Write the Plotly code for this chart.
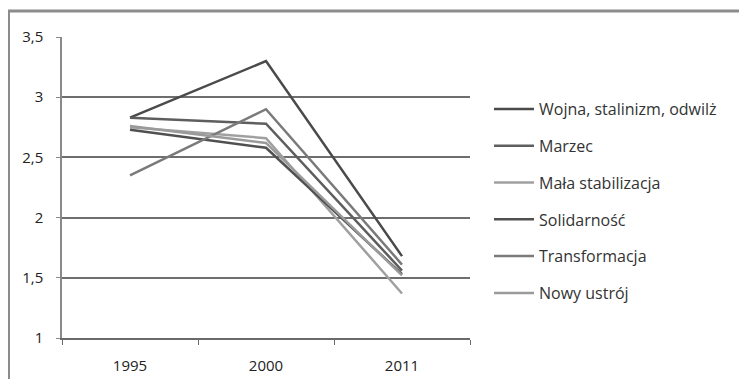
import plotly.graph_objects as go

# Survey years on the category axis
years = ["1995", "2000", "2011"]

# Mean scores per historical period
wojna = [2.83, 3.30, 1.68]
marzec = [2.83, 2.78, 1.56]
mala_stabilizacja = [2.75, 2.66, 1.37]
solidarnosc = [2.73, 2.58, 1.53]
transformacja = [2.35, 2.90, 1.61]
nowy_ustroj = [2.76, 2.62, 1.52]

series_names = ["Wojna, stalinizm, odwilż", "Marzec", "Mała stabilizacja",
                "Solidarność", "Transformacja", "Nowy ustrój"]
series_values = [wojna, marzec, mala_stabilizacja, solidarnosc, transformacja, nowy_ustroj]
series_colors = ["#4a4a4a", "#5e5e5e", "#a0a0a0", "#505050", "#7a7a7a", "#9a9a9a"]

y_ticks = [1, 1.5, 2, 2.5, 3, 3.5]
y_tick_labels = ["1", "1,5", "2", "2,5", "3", "3,5"]

W, H = 739, 379
L, R, T, B = 62, 269, 37, 41

fig = go.Figure()
x_pos = list(range(len(years)))
for i, (name, vals, col) in enumerate(zip(series_names, series_values, series_colors)):
    fig.add_trace(go.Scatter(
        x=x_pos, y=vals, mode="lines", name=name,
        line=dict(color=col, width=2.5),
        legendgroup=f"g{i}",
    ))

pw = W - L - R
ph = H - T - B
def px_x(px):
    return (px - L) / pw
def px_y(py):
    return (H - B - py) / ph

fig.update_layout(
    width=W, height=H,
    margin=dict(l=L, r=R, t=T, b=B, autoexpand=False),
    paper_bgcolor="white", plot_bgcolor="white",
    font=dict(family="Open Sans, Lato, sans-serif", size=14, color="#2e2e2e"),
    showlegend=True,
    legend=dict(
        x=px_x(489), y=px_y(92), xanchor="left", yanchor="top",
        font=dict(size=16, color="#333"),
        tracegroupgap=13, traceorder="grouped",
        itemwidth=40, bgcolor="rgba(0,0,0,0)",
    ),
    xaxis=dict(
        range=[-0.5, 2.5], tickmode="array", tickvals=x_pos, ticktext=years,
        showgrid=False, zeroline=False, showline=True, linecolor="#6a6a6a", linewidth=2,
        ticks="", tickfont=dict(size=15, color="#222"), ticklabelstandoff=13,
        minor=dict(tick0=-0.5, dtick=1, ticks="outside", ticklen=5, tickcolor="#6a6a6a", showgrid=False),
        automargin=False, fixedrange=True,
    ),
    yaxis=dict(
        range=[1, 3.5], tickmode="array", tickvals=y_ticks, ticktext=y_tick_labels,
        showgrid=True, gridcolor="#6e6e6e", gridwidth=1.5, zeroline=False,
        showline=True, linecolor="#8a8a8a", linewidth=1.5,
        ticks="outside", ticklen=4, tickcolor="#8a8a8a", ticklabelstandoff=10,
        tickfont=dict(size=15, color="#222"), automargin=False, fixedrange=True,
    ),
    shapes=[
        # outer frame of the chart box (top and left edges)
        dict(type="line", xref="paper", yref="paper",
             x0=px_x(8), x1=px_x(739), y0=px_y(11), y1=px_y(11),
             line=dict(color="#8c8c8c", width=3)),
        dict(type="line", xref="paper", yref="paper",
             x0=px_x(9), x1=px_x(9), y0=px_y(11), y1=px_y(379),
             line=dict(color="#8c8c8c", width=2)),
    ],
)

fig.write_html("out.html")
